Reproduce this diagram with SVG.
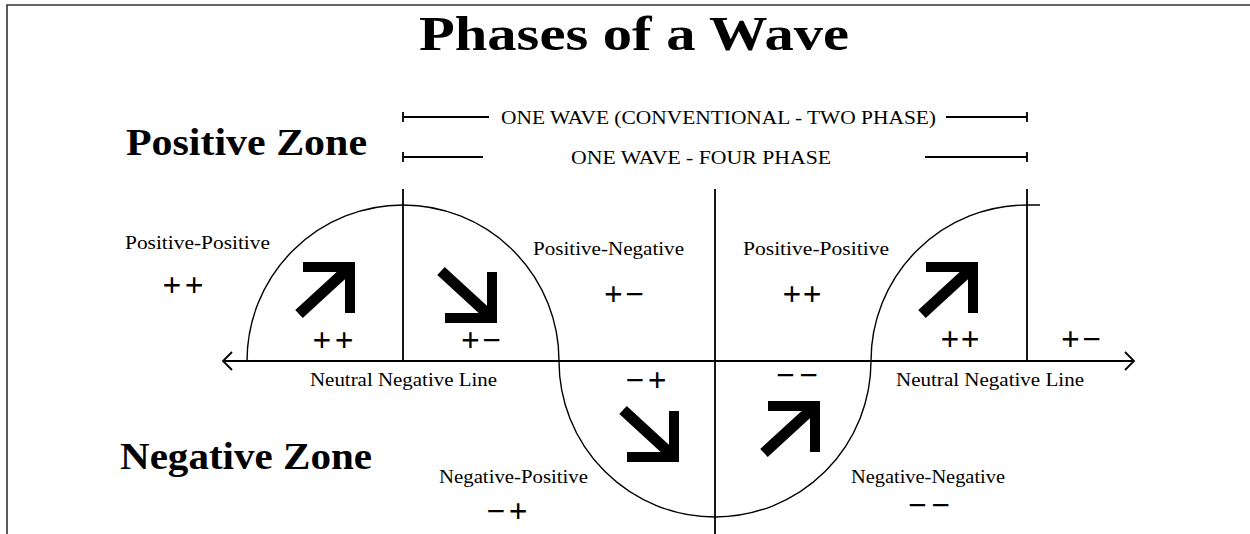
<svg xmlns="http://www.w3.org/2000/svg" width="1250" height="534" viewBox="0 0 1250 534">
  <style>
    text { font-family: "Liberation Serif", "Times New Roman", serif; fill: #000; }
    .title { font-size: 49px; font-weight: bold; }
    .zone { font-size: 37px; font-weight: bold; }
    .dim { font-size: 19px; }
    .lbl { font-size: 19px; }
    .sgn { font-size: 33px; font-weight: bold; }
    .ln { stroke: #000; stroke-width: 1.8; fill: none; }
    .thin { stroke: #000; stroke-width: 1.4; fill: none; }
    .frame { stroke: #333; stroke-width: 1.6; fill: none; }
  </style>
  <defs>
    <g id="bigArrow">
      <polygon points="0,0 -52,0 -52,10 -10,10 -10,51 0,51" fill="#000"/>
      <line x1="-7" y1="7" x2="-56" y2="52" stroke="#000" stroke-width="11"/>
    </g>
  </defs>
  <rect width="1250" height="534" fill="#fff"/>
  <path class="frame" d="M7,534 V5 H1250"/>

  <g id="title">
    <text class="title" x="634" y="50" text-anchor="middle" textLength="430" lengthAdjust="spacingAndGlyphs">Phases of a Wave</text>
  </g>
  <g id="positive-zone">
    <text class="zone" x="126" y="155" textLength="241" lengthAdjust="spacingAndGlyphs">Positive Zone</text>
  </g>
  <g id="negative-zone">
    <text class="zone" x="120" y="469" textLength="252" lengthAdjust="spacingAndGlyphs" style="font-size:38px">Negative Zone</text>
  </g>

  <g id="span-two-phase">
    <path class="ln" d="M403,117 H489 M946,117 H1027 M403,112 V122 M1027,112 V122"/>
    <text class="dim" x="501" y="124" textLength="435" lengthAdjust="spacingAndGlyphs">ONE WAVE (CONVENTIONAL - TWO PHASE)</text>
  </g>
  <g id="span-four-phase">
    <path class="ln" d="M403,157 H483 M925,157 H1027 M403,152 V162 M1027,152 V162"/>
    <text class="dim" x="571" y="164" textLength="260" lengthAdjust="spacingAndGlyphs">ONE WAVE - FOUR PHASE</text>
  </g>

  <g id="connectors">
    <path class="ln" d="M224,361 H1134 M232,352 L223,361 L232,370 M1125,352 L1134,361 L1125,370"/>
    <path class="ln" d="M403,189 V361 M715,189 V534 M1027,189 V361"/>
    <path class="thin" d="M247,361 A156,156 0 0 1 559,361 A156,156 0 0 0 871,361 A156,156 0 0 1 1027,205 H1040"/>
  </g>

  <g id="phase-pp-1">
    <text class="lbl" x="125" y="249" textLength="145" lengthAdjust="spacingAndGlyphs">Positive-Positive</text>
    <text class="sgn" x="183" y="296" text-anchor="middle" textLength="41" lengthAdjust="spacing">++</text>
  </g>
  <g id="arrow-pp-1">
    <use href="#bigArrow" transform="translate(355,262)"/>
    <text class="sgn" x="333" y="351" text-anchor="middle" textLength="41" lengthAdjust="spacing">++</text>
  </g>
  <g id="arrow-pn-1">
    <use href="#bigArrow" transform="translate(497,323) scale(1,-1)"/>
    <text class="sgn" x="481" y="351" text-anchor="middle" textLength="40" lengthAdjust="spacing">+−</text>
  </g>
  <g id="phase-pn-1">
    <text class="lbl" x="533" y="255" textLength="151" lengthAdjust="spacingAndGlyphs">Positive-Negative</text>
    <text class="sgn" x="624" y="305" text-anchor="middle" textLength="40" lengthAdjust="spacing">+−</text>
  </g>
  <g id="phase-pp-2">
    <text class="lbl" x="743" y="255" textLength="146" lengthAdjust="spacingAndGlyphs">Positive-Positive</text>
    <text class="sgn" x="802" y="305" text-anchor="middle" textLength="39" lengthAdjust="spacing">++</text>
  </g>
  <g id="arrow-pp-2">
    <use href="#bigArrow" transform="translate(978,262)"/>
    <text class="sgn" x="960" y="350" text-anchor="middle" textLength="39" lengthAdjust="spacing">++</text>
  </g>
  <g id="phase-pn-2">
    <text class="sgn" x="1081" y="350" text-anchor="middle" textLength="40" lengthAdjust="spacing">+−</text>
  </g>
  <g id="neutral-line-left">
    <text class="lbl" x="310" y="386" textLength="187" lengthAdjust="spacingAndGlyphs">Neutral Negative Line</text>
  </g>
  <g id="neutral-line-right">
    <text class="lbl" x="896" y="386" textLength="188" lengthAdjust="spacingAndGlyphs">Neutral Negative Line</text>
  </g>
  <g id="arrow-np">
    <use href="#bigArrow" transform="translate(679,462) scale(1,-1)"/>
    <text class="sgn" x="646" y="391" text-anchor="middle" textLength="41" lengthAdjust="spacing">−+</text>
  </g>
  <g id="arrow-nn">
    <use href="#bigArrow" transform="translate(820,401)"/>
    <text class="sgn" x="797" y="386" text-anchor="middle" textLength="42" lengthAdjust="spacing">−−</text>
  </g>
  <g id="phase-np">
    <text class="lbl" x="439" y="483" textLength="149" lengthAdjust="spacingAndGlyphs">Negative-Positive</text>
    <text class="sgn" x="507" y="522" text-anchor="middle" textLength="41" lengthAdjust="spacing">−+</text>
  </g>
  <g id="phase-nn">
    <text class="lbl" x="851" y="483" textLength="154" lengthAdjust="spacingAndGlyphs">Negative-Negative</text>
    <text class="sgn" x="929" y="516" text-anchor="middle" textLength="42" lengthAdjust="spacing">−−</text>
  </g>
</svg>
